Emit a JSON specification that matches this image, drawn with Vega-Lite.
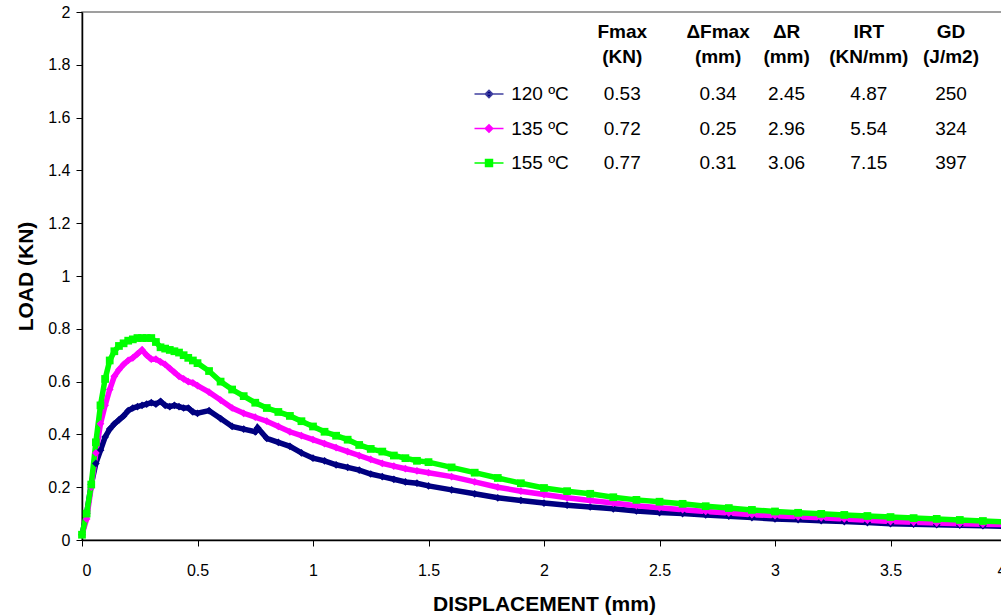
{
  "$schema": "https://vega.github.io/schema/vega-lite/v6.json",
  "width": 924,
  "height": 528,
  "autosize": "none",
  "padding": {"left": 82, "top": 12, "right": 0, "bottom": 76},
  "background": "white",
  "config": {
    "font": "Liberation Sans",
    "view": {"stroke": "#808080", "strokeWidth": 1.5},
    "axis": {"grid": false, "domainColor": "#000000", "tickColor": "#000000", "labelColor": "#000000", "titleColor": "#000000", "labelFont": "Liberation Sans", "titleFont": "Liberation Sans", "labelFontSize": 16, "titleFontSize": 21, "titleFontWeight": "bold", "tickSize": 6, "domainWidth": 1.5}
  },
  "datasets": {
    "curves": [
      {"s":"120 ºC","x":0,"y":0.02},{"s":"120 ºC","x":0.02,"y":0.1},{"s":"120 ºC","x":0.04,"y":0.21},{"s":"120 ºC","x":0.06,"y":0.29},{"s":"120 ºC","x":0.08,"y":0.34},{"s":"120 ºC","x":0.1,"y":0.39},{"s":"120 ºC","x":0.12,"y":0.42},{"s":"120 ºC","x":0.14,"y":0.44},{"s":"120 ºC","x":0.16,"y":0.455},{"s":"120 ºC","x":0.18,"y":0.47},{"s":"120 ºC","x":0.2,"y":0.49},{"s":"120 ºC","x":0.22,"y":0.5},{"s":"120 ºC","x":0.24,"y":0.505},{"s":"120 ºC","x":0.26,"y":0.51},{"s":"120 ºC","x":0.28,"y":0.515},{"s":"120 ºC","x":0.3,"y":0.52},{"s":"120 ºC","x":0.32,"y":0.515},{"s":"120 ºC","x":0.34,"y":0.525},{"s":"120 ºC","x":0.36,"y":0.51},{"s":"120 ºC","x":0.38,"y":0.505},{"s":"120 ºC","x":0.4,"y":0.51},{"s":"120 ºC","x":0.42,"y":0.505},{"s":"120 ºC","x":0.44,"y":0.5},{"s":"120 ºC","x":0.46,"y":0.5},{"s":"120 ºC","x":0.48,"y":0.485},{"s":"120 ºC","x":0.5,"y":0.48},{"s":"120 ºC","x":0.55,"y":0.49},{"s":"120 ºC","x":0.6,"y":0.46},{"s":"120 ºC","x":0.65,"y":0.43},{"s":"120 ºC","x":0.7,"y":0.42},{"s":"120 ºC","x":0.75,"y":0.41},{"s":"120 ºC","x":0.76,"y":0.425},{"s":"120 ºC","x":0.8,"y":0.385},{"s":"120 ºC","x":0.85,"y":0.37},{"s":"120 ºC","x":0.9,"y":0.355},{"s":"120 ºC","x":0.95,"y":0.33},{"s":"120 ºC","x":1.0,"y":0.31},{"s":"120 ºC","x":1.05,"y":0.3},{"s":"120 ºC","x":1.1,"y":0.285},{"s":"120 ºC","x":1.15,"y":0.275},{"s":"120 ºC","x":1.2,"y":0.265},{"s":"120 ºC","x":1.25,"y":0.25},{"s":"120 ºC","x":1.3,"y":0.24},{"s":"120 ºC","x":1.35,"y":0.23},{"s":"120 ºC","x":1.4,"y":0.22},{"s":"120 ºC","x":1.45,"y":0.215},{"s":"120 ºC","x":1.5,"y":0.205},{"s":"120 ºC","x":1.6,"y":0.19},{"s":"120 ºC","x":1.7,"y":0.175},{"s":"120 ºC","x":1.8,"y":0.16},{"s":"120 ºC","x":1.9,"y":0.15},{"s":"120 ºC","x":2.0,"y":0.14},{"s":"120 ºC","x":2.1,"y":0.132},{"s":"120 ºC","x":2.2,"y":0.125},{"s":"120 ºC","x":2.3,"y":0.118},{"s":"120 ºC","x":2.4,"y":0.11},{"s":"120 ºC","x":2.5,"y":0.104},{"s":"120 ºC","x":2.6,"y":0.1},{"s":"120 ºC","x":2.7,"y":0.095},{"s":"120 ºC","x":2.8,"y":0.09},{"s":"120 ºC","x":2.9,"y":0.085},{"s":"120 ºC","x":3.0,"y":0.08},{"s":"120 ºC","x":3.1,"y":0.077},{"s":"120 ºC","x":3.2,"y":0.073},{"s":"120 ºC","x":3.3,"y":0.07},{"s":"120 ºC","x":3.4,"y":0.066},{"s":"120 ºC","x":3.5,"y":0.062},{"s":"120 ºC","x":3.6,"y":0.06},{"s":"120 ºC","x":3.7,"y":0.058},{"s":"120 ºC","x":3.8,"y":0.056},{"s":"120 ºC","x":3.9,"y":0.054},{"s":"120 ºC","x":4.0,"y":0.052},
      {"s":"135 ºC","x":0,"y":0.02},{"s":"135 ºC","x":0.02,"y":0.08},{"s":"135 ºC","x":0.04,"y":0.2},{"s":"135 ºC","x":0.06,"y":0.33},{"s":"135 ºC","x":0.08,"y":0.44},{"s":"135 ºC","x":0.1,"y":0.51},{"s":"135 ºC","x":0.12,"y":0.57},{"s":"135 ºC","x":0.14,"y":0.62},{"s":"135 ºC","x":0.16,"y":0.645},{"s":"135 ºC","x":0.18,"y":0.665},{"s":"135 ºC","x":0.2,"y":0.68},{"s":"135 ºC","x":0.22,"y":0.69},{"s":"135 ºC","x":0.24,"y":0.705},{"s":"135 ºC","x":0.26,"y":0.72},{"s":"135 ºC","x":0.28,"y":0.7},{"s":"135 ºC","x":0.3,"y":0.685},{"s":"135 ºC","x":0.32,"y":0.685},{"s":"135 ºC","x":0.34,"y":0.675},{"s":"135 ºC","x":0.36,"y":0.665},{"s":"135 ºC","x":0.38,"y":0.65},{"s":"135 ºC","x":0.4,"y":0.635},{"s":"135 ºC","x":0.42,"y":0.62},{"s":"135 ºC","x":0.44,"y":0.61},{"s":"135 ºC","x":0.46,"y":0.6},{"s":"135 ºC","x":0.48,"y":0.595},{"s":"135 ºC","x":0.5,"y":0.585},{"s":"135 ºC","x":0.55,"y":0.56},{"s":"135 ºC","x":0.6,"y":0.53},{"s":"135 ºC","x":0.65,"y":0.5},{"s":"135 ºC","x":0.7,"y":0.48},{"s":"135 ºC","x":0.75,"y":0.465},{"s":"135 ºC","x":0.8,"y":0.45},{"s":"135 ºC","x":0.85,"y":0.43},{"s":"135 ºC","x":0.9,"y":0.41},{"s":"135 ºC","x":0.95,"y":0.395},{"s":"135 ºC","x":1.0,"y":0.38},{"s":"135 ºC","x":1.05,"y":0.365},{"s":"135 ºC","x":1.1,"y":0.35},{"s":"135 ºC","x":1.15,"y":0.335},{"s":"135 ºC","x":1.2,"y":0.32},{"s":"135 ºC","x":1.25,"y":0.305},{"s":"135 ºC","x":1.3,"y":0.29},{"s":"135 ºC","x":1.35,"y":0.28},{"s":"135 ºC","x":1.4,"y":0.27},{"s":"135 ºC","x":1.45,"y":0.262},{"s":"135 ºC","x":1.5,"y":0.255},{"s":"135 ºC","x":1.6,"y":0.24},{"s":"135 ºC","x":1.7,"y":0.22},{"s":"135 ºC","x":1.8,"y":0.2},{"s":"135 ºC","x":1.9,"y":0.185},{"s":"135 ºC","x":2.0,"y":0.172},{"s":"135 ºC","x":2.1,"y":0.16},{"s":"135 ºC","x":2.2,"y":0.15},{"s":"135 ºC","x":2.3,"y":0.14},{"s":"135 ºC","x":2.4,"y":0.13},{"s":"135 ºC","x":2.5,"y":0.122},{"s":"135 ºC","x":2.6,"y":0.115},{"s":"135 ºC","x":2.7,"y":0.108},{"s":"135 ºC","x":2.8,"y":0.102},{"s":"135 ºC","x":2.9,"y":0.096},{"s":"135 ºC","x":3.0,"y":0.092},{"s":"135 ºC","x":3.1,"y":0.088},{"s":"135 ºC","x":3.2,"y":0.084},{"s":"135 ºC","x":3.3,"y":0.08},{"s":"135 ºC","x":3.4,"y":0.075},{"s":"135 ºC","x":3.5,"y":0.07},{"s":"135 ºC","x":3.6,"y":0.067},{"s":"135 ºC","x":3.7,"y":0.064},{"s":"135 ºC","x":3.8,"y":0.062},{"s":"135 ºC","x":3.9,"y":0.06},{"s":"135 ºC","x":4.0,"y":0.058},
      {"s":"155 ºC","x":0,"y":0.02},{"s":"155 ºC","x":0.02,"y":0.1},{"s":"155 ºC","x":0.04,"y":0.21},{"s":"155 ºC","x":0.06,"y":0.37},{"s":"155 ºC","x":0.08,"y":0.51},{"s":"155 ºC","x":0.1,"y":0.61},{"s":"155 ºC","x":0.12,"y":0.68},{"s":"155 ºC","x":0.14,"y":0.715},{"s":"155 ºC","x":0.16,"y":0.735},{"s":"155 ºC","x":0.18,"y":0.745},{"s":"155 ºC","x":0.2,"y":0.755},{"s":"155 ºC","x":0.22,"y":0.76},{"s":"155 ºC","x":0.24,"y":0.765},{"s":"155 ºC","x":0.26,"y":0.765},{"s":"155 ºC","x":0.28,"y":0.765},{"s":"155 ºC","x":0.3,"y":0.765},{"s":"155 ºC","x":0.32,"y":0.75},{"s":"155 ºC","x":0.34,"y":0.73},{"s":"155 ºC","x":0.36,"y":0.725},{"s":"155 ºC","x":0.38,"y":0.72},{"s":"155 ºC","x":0.4,"y":0.715},{"s":"155 ºC","x":0.42,"y":0.71},{"s":"155 ºC","x":0.44,"y":0.7},{"s":"155 ºC","x":0.46,"y":0.69},{"s":"155 ºC","x":0.48,"y":0.68},{"s":"155 ºC","x":0.5,"y":0.67},{"s":"155 ºC","x":0.55,"y":0.64},{"s":"155 ºC","x":0.6,"y":0.6},{"s":"155 ºC","x":0.65,"y":0.57},{"s":"155 ºC","x":0.7,"y":0.545},{"s":"155 ºC","x":0.75,"y":0.52},{"s":"155 ºC","x":0.8,"y":0.5},{"s":"155 ºC","x":0.85,"y":0.485},{"s":"155 ºC","x":0.9,"y":0.47},{"s":"155 ºC","x":0.95,"y":0.45},{"s":"155 ºC","x":1.0,"y":0.43},{"s":"155 ºC","x":1.05,"y":0.41},{"s":"155 ºC","x":1.1,"y":0.395},{"s":"155 ºC","x":1.15,"y":0.38},{"s":"155 ºC","x":1.2,"y":0.36},{"s":"155 ºC","x":1.25,"y":0.345},{"s":"155 ºC","x":1.3,"y":0.335},{"s":"155 ºC","x":1.35,"y":0.32},{"s":"155 ºC","x":1.4,"y":0.31},{"s":"155 ºC","x":1.45,"y":0.3},{"s":"155 ºC","x":1.5,"y":0.295},{"s":"155 ºC","x":1.6,"y":0.275},{"s":"155 ºC","x":1.7,"y":0.255},{"s":"155 ºC","x":1.8,"y":0.235},{"s":"155 ºC","x":1.9,"y":0.215},{"s":"155 ºC","x":2.0,"y":0.197},{"s":"155 ºC","x":2.1,"y":0.185},{"s":"155 ºC","x":2.2,"y":0.175},{"s":"155 ºC","x":2.3,"y":0.162},{"s":"155 ºC","x":2.4,"y":0.152},{"s":"155 ºC","x":2.5,"y":0.145},{"s":"155 ºC","x":2.6,"y":0.137},{"s":"155 ºC","x":2.7,"y":0.128},{"s":"155 ºC","x":2.8,"y":0.121},{"s":"155 ºC","x":2.9,"y":0.114},{"s":"155 ºC","x":3.0,"y":0.108},{"s":"155 ºC","x":3.1,"y":0.103},{"s":"155 ºC","x":3.2,"y":0.099},{"s":"155 ºC","x":3.3,"y":0.095},{"s":"155 ºC","x":3.4,"y":0.091},{"s":"155 ºC","x":3.5,"y":0.087},{"s":"155 ºC","x":3.6,"y":0.083},{"s":"155 ºC","x":3.7,"y":0.08},{"s":"155 ºC","x":3.8,"y":0.076},{"s":"155 ºC","x":3.9,"y":0.072},{"s":"155 ºC","x":4.0,"y":0.068}
    ],
    "table": [
      {"s":"h","col":"Fmax","t":"Fmax\n(KN)"},{"s":"h","col":"ΔFmax","t":"ΔFmax\n(mm)"},{"s":"h","col":"ΔR","t":"ΔR\n(mm)"},{"s":"h","col":"IRT","t":"IRT\n(KN/mm)"},{"s":"h","col":"GD","t":"GD\n(J/m2)"},
      {"s":"120 ºC","col":"label","t":"120 ºC"},{"s":"120 ºC","col":"Fmax","t":"0.53"},{"s":"120 ºC","col":"ΔFmax","t":"0.34"},{"s":"120 ºC","col":"ΔR","t":"2.45"},{"s":"120 ºC","col":"IRT","t":"4.87"},{"s":"120 ºC","col":"GD","t":"250"},
      {"s":"135 ºC","col":"label","t":"135 ºC"},{"s":"135 ºC","col":"Fmax","t":"0.72"},{"s":"135 ºC","col":"ΔFmax","t":"0.25"},{"s":"135 ºC","col":"ΔR","t":"2.96"},{"s":"135 ºC","col":"IRT","t":"5.54"},{"s":"135 ºC","col":"GD","t":"324"},
      {"s":"155 ºC","col":"label","t":"155 ºC"},{"s":"155 ºC","col":"Fmax","t":"0.77"},{"s":"155 ºC","col":"ΔFmax","t":"0.31"},{"s":"155 ºC","col":"ΔR","t":"3.06"},{"s":"155 ºC","col":"IRT","t":"7.15"},{"s":"155 ºC","col":"GD","t":"397"}
    ]
  },
  "layer": [
    {
      "data": {"name": "curves"},
      "layer": [
        {
          "mark": {"type": "line", "strokeWidth": 5.5},
          "encoding": {
            "x": {"field": "x", "type": "quantitative", "scale": {"domain": [0, 4], "nice": false}, "axis": {"values": [0, 0.5, 1, 1.5, 2, 2.5, 3, 3.5, 4], "format": "~g", "labelPadding": 16, "title": "DISPLACEMENT (mm)", "titlePadding": 15}},
            "y": {"field": "y", "type": "quantitative", "scale": {"domain": [0, 2], "nice": false}, "axis": {"values": [0, 0.2, 0.4, 0.6, 0.8, 1, 1.2, 1.4, 1.6, 1.8, 2], "format": "~g", "labelPadding": 6, "title": "LOAD (KN)", "titlePadding": 11}},
            "color": {"field": "s", "type": "nominal", "scale": {"domain": ["120 ºC", "135 ºC", "155 ºC"], "range": ["#000080", "#FF00FF", "#00FF00"]}, "legend": null},
            "detail": {"field": "s"}
          }
        },
        {
          "mark": {"type": "point", "filled": true, "opacity": 1, "size": 60},
          "encoding": {
            "x": {"field": "x", "type": "quantitative"},
            "y": {"field": "y", "type": "quantitative"},
            "color": {"field": "s", "type": "nominal", "legend": null},
            "shape": {"field": "s", "type": "nominal", "scale": {"domain": ["120 ºC", "135 ºC", "155 ºC"], "range": ["diamond", "diamond", "square"]}, "legend": null}
          }
        }
      ]
    },
    {
      "data": {"name": "table"},
      "layer": [
        {
          "transform": [{"filter": "datum.s !== 'h'"}],
          "mark": {"type": "text", "fontSize": 19, "font": "Liberation Sans", "color": "#000000", "baseline": "middle", "align": "center"},
          "encoding": {
            "x": {"field": "col", "type": "nominal", "scale": {"domain": ["label", "_1", "_2", "_3", "_4", "_5", "Fmax", "_7", "_8", "_9", "_10", "_11", "_12", "ΔFmax", "_14", "_15", "_16", "_17", "ΔR", "_19", "_20", "_21", "_22", "_23", "IRT", "_25", "_26", "_27", "_28", "_29", "GD"], "range": [458, 869], "padding": 0}, "axis": null},
            "y": {"field": "s", "type": "nominal", "scale": {"domain": ["h", "120 ºC", "135 ºC", "155 ºC"], "range": [47.5, 151], "padding": 0}, "axis": null},
            "text": {"field": "t"}
          }
        },
        {
          "transform": [{"filter": "datum.s === 'h'"}],
          "mark": {"type": "text", "fontSize": 19, "fontWeight": "bold", "font": "Liberation Sans", "color": "#000000", "baseline": "middle", "align": "center", "lineBreak": "\n", "lineHeight": 25, "dy": -27.5},
          "encoding": {
            "x": {"field": "col", "type": "nominal", "axis": null},
            "y": {"field": "s", "type": "nominal", "axis": null},
            "text": {"field": "t"}
          }
        },
        {
          "transform": [{"filter": "datum.col === 'label'"}],
          "mark": {"type": "point", "filled": true, "opacity": 1, "size": 841, "xOffset": -51, "strokeWidth": 1.5},
          "encoding": {
            "x": {"field": "col", "type": "nominal", "axis": null},
            "y": {"field": "s", "type": "nominal", "axis": null},
            "color": {"field": "s", "type": "nominal", "legend": null},
            "stroke": {"field": "s", "type": "nominal", "scale": {"domain": ["120 ºC", "135 ºC", "155 ºC"], "range": ["#4040a0", "#FF00FF", "#00FF00"]}, "legend": null},
            "shape": {"field": "s", "type": "nominal", "scale": {"domain": ["120 ºC", "135 ºC", "155 ºC"], "range": ["M-1,0H1M0,-0.26L0.26,0L0,0.26L-0.26,0Z", "M-1,0H1M0,-0.26L0.26,0L0,0.26L-0.26,0Z", "M-1,0H1M-0.24,-0.24H0.24V0.24H-0.24Z"]}, "legend": null}
          }
        }
      ],
      "resolve": {"scale": {"shape": "independent"}}
    }
  ],
  "resolve": {"scale": {"x": "independent", "y": "independent", "shape": "independent"}}
}
